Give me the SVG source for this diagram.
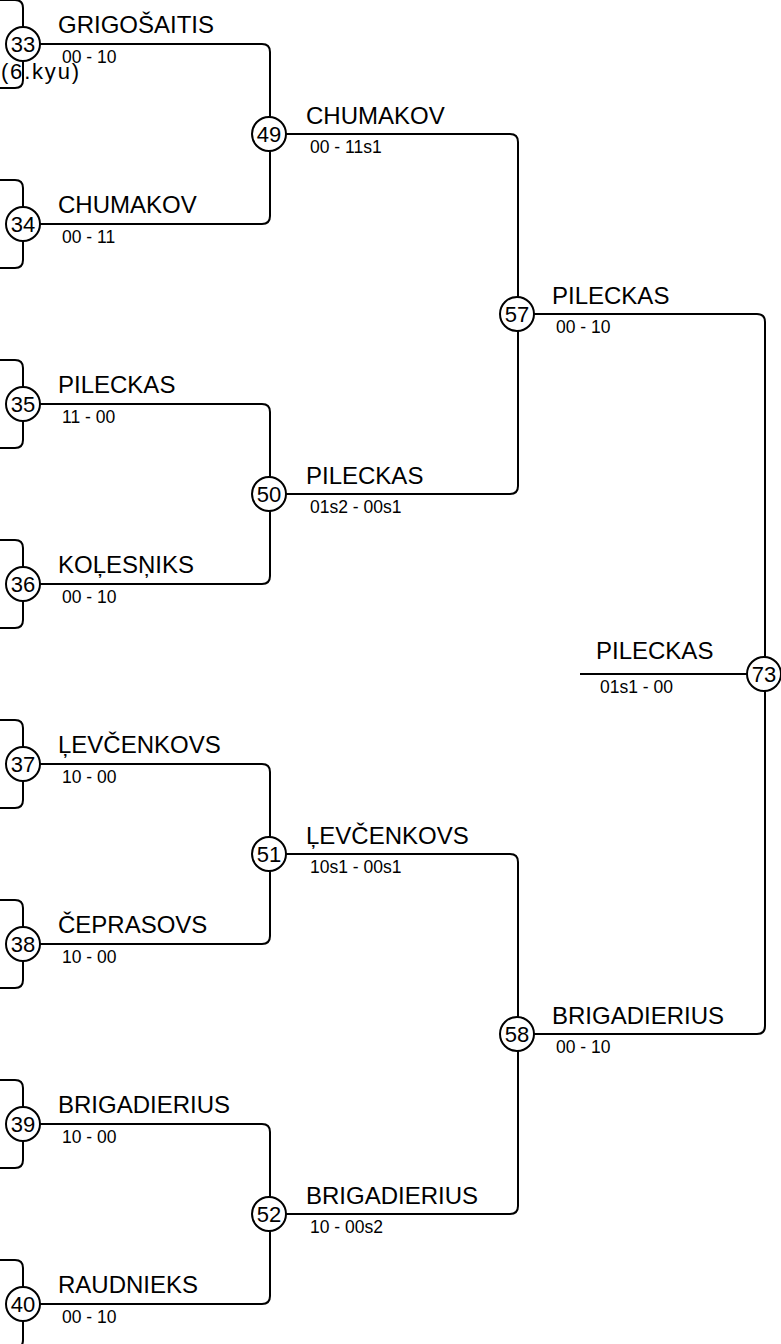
<svg xmlns="http://www.w3.org/2000/svg" width="781" height="1344" viewBox="0 0 781 1344">
<style>
.c{fill:none;stroke:#000;stroke-width:2}
.n circle{fill:#fff;stroke:#000;stroke-width:2}
.num{font-family:"Liberation Sans",Arial,sans-serif;font-size:22px;text-anchor:middle;fill:#000}
.nm{font-family:"Liberation Sans",Arial,sans-serif;font-size:24px;fill:#000}
.sc{font-family:"Liberation Sans",Arial,sans-serif;font-size:17.5px;fill:#000}
.lv{font-family:"Liberation Sans",Arial,sans-serif;font-size:22px;fill:#000}
</style>
<rect width="781" height="1344" fill="#fff"/>
<g id="connectors">
<path class="c" d="M0,0 H15 Q23,0 23,8 V80 Q23,88 15,88 H0"/>
<path class="c" d="M0,180 H15 Q23,180 23,188 V260 Q23,268 15,268 H0"/>
<path class="c" d="M0,360 H15 Q23,360 23,368 V440 Q23,448 15,448 H0"/>
<path class="c" d="M0,540 H15 Q23,540 23,548 V620 Q23,628 15,628 H0"/>
<path class="c" d="M0,720 H15 Q23,720 23,728 V800 Q23,808 15,808 H0"/>
<path class="c" d="M0,900 H15 Q23,900 23,908 V980 Q23,988 15,988 H0"/>
<path class="c" d="M0,1080 H15 Q23,1080 23,1088 V1160 Q23,1168 15,1168 H0"/>
<path class="c" d="M0,1260 H15 Q23,1260 23,1268 V1340 Q23,1348 15,1348 H0"/>
<path class="c" d="M23,44 H262 Q270,44 270,52 V216 Q270,224 262,224 H23"/>
<path class="c" d="M23,404 H262 Q270,404 270,412 V576 Q270,584 262,584 H23"/>
<path class="c" d="M23,764 H262 Q270,764 270,772 V936 Q270,944 262,944 H23"/>
<path class="c" d="M23,1124 H262 Q270,1124 270,1132 V1296 Q270,1304 262,1304 H23"/>
<path class="c" d="M269,134 H510 Q518,134 518,142 V486 Q518,494 510,494 H269"/>
<path class="c" d="M269,854 H510 Q518,854 518,862 V1206 Q518,1214 510,1214 H269"/>
<path class="c" d="M517,314 H757 Q765,314 765,322 V1026 Q765,1034 757,1034 H517"/>
<path class="c" d="M580,674 H764"/>
</g>
<g id="n33" class="n"><circle cx="23" cy="44" r="17"/><text class="num" x="23" y="52">33</text><text class="nm" x="58" y="33">GRIGOŠAITIS</text><text class="sc" x="62" y="63">00 - 10</text></g>
<text class="lv" x="1" y="79" textLength="78">(6.kyu)</text>
<g id="n34" class="n"><circle cx="23" cy="224" r="17"/><text class="num" x="23" y="232">34</text><text class="nm" x="58" y="213">CHUMAKOV</text><text class="sc" x="62" y="243">00 - 11</text></g>
<g id="n35" class="n"><circle cx="23" cy="404" r="17"/><text class="num" x="23" y="412">35</text><text class="nm" x="58" y="393">PILECKAS</text><text class="sc" x="62" y="423">11 - 00</text></g>
<g id="n36" class="n"><circle cx="23" cy="584" r="17"/><text class="num" x="23" y="592">36</text><text class="nm" x="58" y="573">KOĻESŅIKS</text><text class="sc" x="62" y="603">00 - 10</text></g>
<g id="n37" class="n"><circle cx="23" cy="764" r="17"/><text class="num" x="23" y="772">37</text><text class="nm" x="58" y="753">ĻEVČENKOVS</text><text class="sc" x="62" y="783">10 - 00</text></g>
<g id="n38" class="n"><circle cx="23" cy="944" r="17"/><text class="num" x="23" y="952">38</text><text class="nm" x="58" y="933">ČEPRASOVS</text><text class="sc" x="62" y="963">10 - 00</text></g>
<g id="n39" class="n"><circle cx="23" cy="1124" r="17"/><text class="num" x="23" y="1132">39</text><text class="nm" x="58" y="1113">BRIGADIERIUS</text><text class="sc" x="62" y="1143">10 - 00</text></g>
<g id="n40" class="n"><circle cx="23" cy="1304" r="17"/><text class="num" x="23" y="1312">40</text><text class="nm" x="58" y="1293">RAUDNIEKS</text><text class="sc" x="62" y="1323">00 - 10</text></g>
<g id="n49" class="n"><circle cx="269" cy="134" r="17"/><text class="num" x="269" y="142">49</text><text class="nm" x="306" y="124">CHUMAKOV</text><text class="sc" x="310" y="153">00 - 11s1</text></g>
<g id="n50" class="n"><circle cx="269" cy="494" r="17"/><text class="num" x="269" y="502">50</text><text class="nm" x="306" y="484">PILECKAS</text><text class="sc" x="310" y="513">01s2 - 00s1</text></g>
<g id="n51" class="n"><circle cx="269" cy="854" r="17"/><text class="num" x="269" y="862">51</text><text class="nm" x="306" y="844">ĻEVČENKOVS</text><text class="sc" x="310" y="873">10s1 - 00s1</text></g>
<g id="n52" class="n"><circle cx="269" cy="1214" r="17"/><text class="num" x="269" y="1222">52</text><text class="nm" x="306" y="1204">BRIGADIERIUS</text><text class="sc" x="310" y="1233">10 - 00s2</text></g>
<g id="n57" class="n"><circle cx="517" cy="314" r="17"/><text class="num" x="517" y="322">57</text><text class="nm" x="552" y="304">PILECKAS</text><text class="sc" x="556" y="333">00 - 10</text></g>
<g id="n58" class="n"><circle cx="517" cy="1034" r="17"/><text class="num" x="517" y="1042">58</text><text class="nm" x="552" y="1024">BRIGADIERIUS</text><text class="sc" x="556" y="1053">00 - 10</text></g>
<g id="n73" class="n"><circle cx="764" cy="674" r="17"/><text class="num" x="764" y="682">73</text><text class="nm" x="596" y="659">PILECKAS</text><text class="sc" x="600" y="693">01s1 - 00</text></g>
</svg>
